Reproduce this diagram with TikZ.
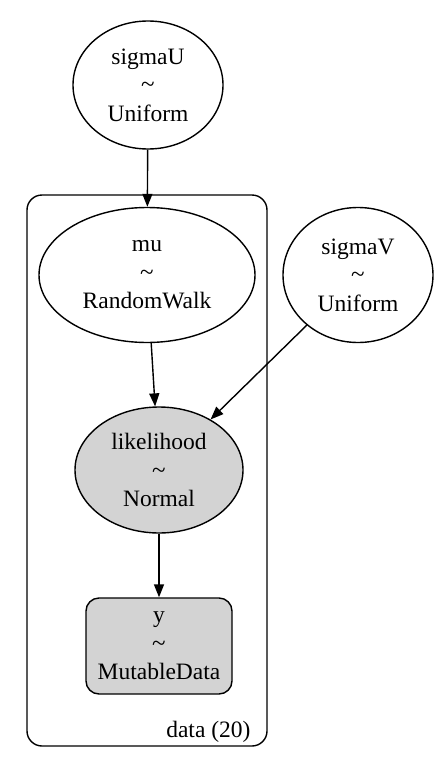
\documentclass[tikz,border=0pt]{standalone}
\usepackage{fontspec}
\setmainfont{Liberation Serif}
\usetikzlibrary{shapes.geometric,arrows.meta}
\definecolor{nodegray}{HTML}{D3D3D3}
\newcommand{\tld}{{\fontsize{25}{25}\selectfont\textasciitilde}}
\tikzset{
  x=1pt,y=-1pt,
  every node/.style={font=\fontsize{23.5}{28.5}\selectfont, align=center},
  rv/.style={ellipse, draw, line width=1.4pt, inner sep=0pt},
  obs/.style={fill=nodegray},
  edge/.style={line width=1.4pt, -{Triangle[length=13pt,width=10pt]}},
}
\begin{document}
\begin{tikzpicture}
\useasboundingbox (0,0) rectangle (443,771);
% plate
\draw[line width=1.4pt, rounded corners=15pt] (27,195) rectangle (267,746);
\node[anchor=base east] (plate) at (254,737) {data (20)};
% nodes
\node[rv, minimum width=150pt, minimum height=128pt] (sigmaU) at (148,85) {sigmaU\\\tld\\Uniform};
\node[rv, minimum width=216pt, minimum height=135pt] (mu) at (147,275) {mu\\\tld\\RandomWalk};
\node[rv, minimum width=150pt, minimum height=135pt] (sigmaV) at (358,275) {sigmaV\\\tld\\Uniform};
\node[rv, obs, minimum width=168pt, minimum height=126pt] (lik) at (159,470) {likelihood\\\tld\\Normal};
\node[draw, obs, line width=1.4pt, rounded corners=13pt, minimum width=146pt, minimum height=96pt, inner sep=0pt] (y) at (159,646) {y\\\tld\\MutableData};
% edges
\draw[edge] (sigmaU) -- (mu);
\draw[edge] (mu) -- (lik);
\draw[edge] (sigmaV) -- (lik);
\draw[edge] (lik) -- (y);
\end{tikzpicture}
\end{document}
